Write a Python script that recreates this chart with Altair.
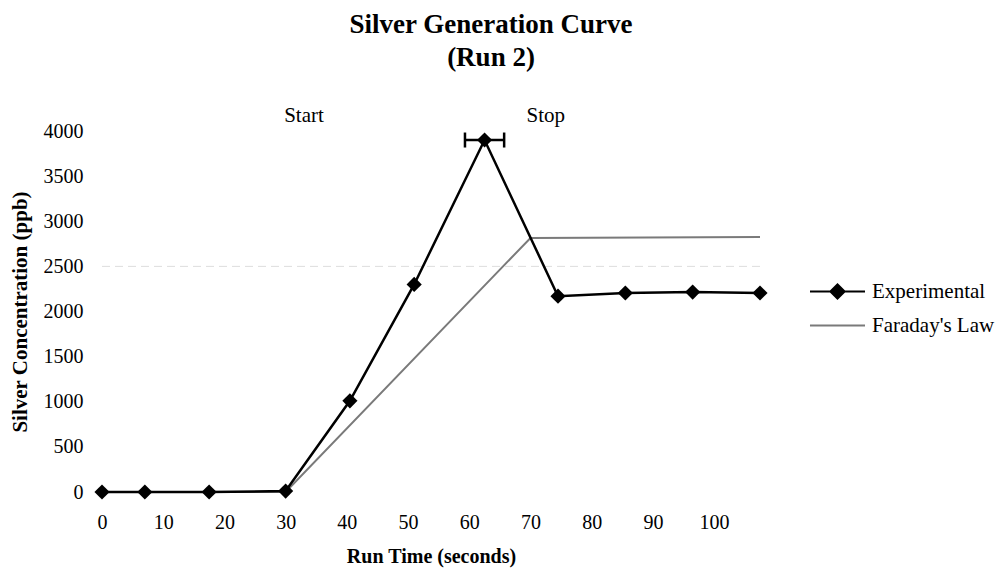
import altair as alt
import pandas as pd

# ---- data ----
exp_time = [0, 7, 17.5, 30, 40.5, 51, 62.5, 74.5, 85.5, 96.5, 107.5]
exp_conc = [0, 0, 0, 10, 1010, 2300, 3900, 2170, 2205, 2215, 2205]
far_time = [0, 30, 70, 107.5]
far_conc = [0, 0, 2815, 2825]
peak_time = [62.5]
peak_conc = [3900]
peak_err = [3.2]
note_labels = ["Start", "Stop"]
note_time = [33, 72.5]
x_ticks = list(range(0, 101, 10))
y_ticks = list(range(0, 4001, 500))
series_names = ["Experimental", "Faraday's Law"]

FONT = "Liberation Serif"
GRAY = "#7a7a7a"

exp_df = pd.DataFrame({"time": exp_time, "conc": exp_conc, "series": series_names[0]})
far_df = pd.DataFrame({"time": far_time, "conc": far_conc, "series": series_names[1]})
long_df = pd.concat([exp_df, far_df], ignore_index=True)
err_df = pd.DataFrame({"time": peak_time, "conc": peak_conc, "err": peak_err})
err_df["lo"] = err_df["time"] - err_df["err"]
err_df["hi"] = err_df["time"] + err_df["err"]
note_df = pd.DataFrame({"label": note_labels, "time": note_time})
grid_df = pd.DataFrame({"conc": [2500]})

xscale = alt.Scale(domain=[0, 107.5], nice=False, zero=False)
yscale = alt.Scale(domain=[0, 4000], nice=False)

x_axis = alt.Axis(values=x_ticks, grid=False, ticks=False, domain=False, labelFlush=False,
                  format="d",
                  labelFont=FONT, labelFontSize=20, labelColor="black", labelPadding=20,
                  title="Run Time (seconds)", titleFont=FONT, titleFontSize=20,
                  titleFontWeight="bold", titleColor="black", titlePadding=14)
y_axis = alt.Axis(values=y_ticks, grid=False, ticks=False, domain=False, labelFlush=False,
                  format="d",
                  labelFont=FONT, labelFontSize=20, labelColor="black", labelPadding=19,
                  title="Silver Concentration (ppb)", titleFont=FONT, titleFontSize=21,
                  titleFontWeight="bold", titleColor="black", titlePadding=13)

X = alt.X("time:Q", scale=xscale, axis=x_axis)
Y = alt.Y("conc:Q", scale=yscale, axis=y_axis)

grid = alt.Chart(grid_df).mark_rule(color="#dddddd", strokeDash=[8, 5], strokeWidth=1).encode(
    y=alt.Y("conc:Q", scale=yscale))

far_line = alt.Chart(far_df).mark_line(color=GRAY, strokeWidth=2).encode(x=X, y=Y)
exp_line = alt.Chart(exp_df).mark_line(color="black", strokeWidth=2.5).encode(x=X, y=Y)
exp_pts = alt.Chart(exp_df).mark_point(shape="diamond", filled=True, color="black",
                                       size=230, opacity=1).encode(x=X, y=Y)

err_rule = alt.Chart(err_df).mark_rule(color="black", strokeWidth=2.5).encode(
    x=alt.X("lo:Q", scale=xscale), x2="hi:Q", y=alt.Y("conc:Q", scale=yscale))
err_caps_lo = alt.Chart(err_df).mark_tick(color="black", orient="vertical", size=15,
                                          thickness=2.5, opacity=1).encode(
    x=alt.X("lo:Q", scale=xscale), y=alt.Y("conc:Q", scale=yscale))
err_caps_hi = alt.Chart(err_df).mark_tick(color="black", orient="vertical", size=15,
                                          thickness=2.5, opacity=1).encode(
    x=alt.X("hi:Q", scale=xscale), y=alt.Y("conc:Q", scale=yscale))

notes = alt.Chart(note_df).mark_text(font=FONT, fontSize=21, color="black",
                                     baseline="alphabetic", dy=-9).encode(
    x=alt.X("time:Q", scale=xscale), y=alt.datum(4000), text="label:N")

# legend (drawn from scales only; no marks rendered)
U = 3.93
D = 1.0
exp_path = f"M{-U},0H{U}M0,{-D}L{D},0L0,{D}L{-D},0Z"
far_path = f"M{-U},0H{U}"
leg = alt.Legend(title=None, orient="none", legendX=725, legendY=150,
                 labelFont=FONT, labelFontSize=21, labelColor="black",
                 symbolSize=196, symbolStrokeWidth=2.2, labelOffset=24,
                 symbolOpacity=1, padding=0, rowPadding=11)
legend_layer = alt.Chart(long_df).transform_filter("false").mark_point(
    filled=False, opacity=1).encode(
    x=X, y=Y,
    shape=alt.Shape("series:N", scale=alt.Scale(domain=series_names, range=[exp_path, far_path]), legend=leg),
    fill=alt.Fill("series:N", scale=alt.Scale(domain=series_names, range=["black", GRAY]), legend=leg),
    stroke=alt.Stroke("series:N", scale=alt.Scale(domain=series_names, range=["black", GRAY]), legend=leg),
)

chart = alt.layer(grid, far_line, exp_line, exp_pts, err_rule, err_caps_lo, err_caps_hi,
                  notes, legend_layer).properties(
    width=658, height=361,
    autosize="none",
    padding={"left": 102, "top": 131, "right": 239, "bottom": 81},
    title=alt.TitleParams(["Silver Generation Curve", "(Run 2)"], font=FONT, fontSize=27,
                          fontWeight="bold", color="black", anchor="middle", dx=60,
                          lineHeight=33, offset=33),
    background="white",
).configure_view(stroke=None)

chart.save("out.html", embed_options={"renderer": "svg", "actions": False})
